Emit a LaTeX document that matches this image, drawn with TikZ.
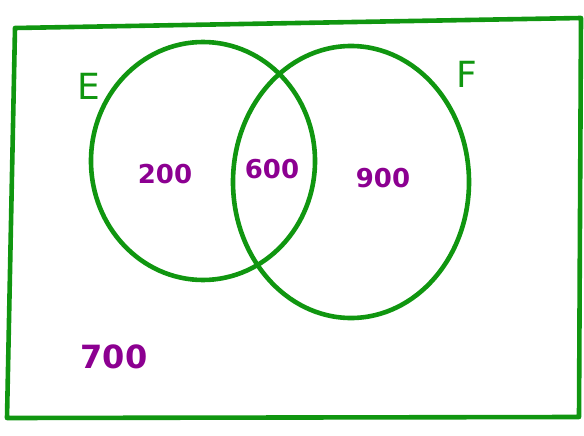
\documentclass[tikz,border=0pt]{standalone}
\usepackage{fontspec}
\setmainfont{DejaVu Sans}
\usetikzlibrary{shapes.geometric}
\definecolor{pgreen}{RGB}{16,150,16}
\definecolor{ppurple}{RGB}{140,0,145}
\tikzset{
  ink/.style={draw=pgreen, line width=4.6pt, line join=round, line cap=round},
  setlabel/.style={text=pgreen, font=\fontsize{36}{36}\selectfont},
  count/.style={text=ppurple, font=\bfseries\fontsize{26}{26}\selectfont}
}
\begin{document}
\begin{tikzpicture}[x=1pt,y=-1pt]
\useasboundingbox (0,0) rectangle (584,436);
\coordinate (tl) at (15,28);
\coordinate (tr) at (581,18);
\coordinate (br) at (579,417);
\coordinate (bl) at (7,418);
\draw[ink] (tl) -- (tr) -- (br) -- (bl) -- cycle;
\node[ink, ellipse, minimum width=224pt, minimum height=238pt, inner sep=0pt] (E) at (203,161) {};
\node[ink, ellipse, minimum width=236pt, minimum height=272pt, inner sep=0pt] (F) at (351,182) {};
\node[setlabel] (Elab) at (89,86) {E};
\node[setlabel] (Flab) at (467,74) {F};
\node[count] (n200) at (165,174) {200};
\node[count] (n600) at (272,169) {600};
\node[count] (n900) at (383,178) {900};
\node[count, font=\bfseries\fontsize{32}{32}\selectfont] (n700) at (114,357) {700};
\end{tikzpicture}
\end{document}
